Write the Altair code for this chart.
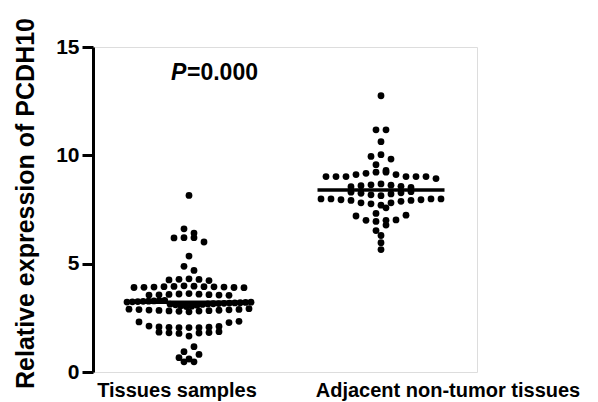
import altair as alt
import pandas as pd
import numpy as np

categories = ["Tissues samples", "Adjacent non-tumor tissues"]

tissues = [
    8.15,
    6.61, 6.41, 6.20, 6.20, 6.19, 6.00,
    5.35,
    4.88, 4.69,
    4.30, 4.28, 4.27, 4.25, 4.22,
    3.98, 3.96, 3.95, 3.94, 3.94, 3.93, 3.92, 3.92, 3.91, 3.90, 3.90, 3.89,
    3.62, 3.60, 3.59, 3.58, 3.57, 3.56, 3.55, 3.55, 3.54,
    3.30, 3.29, 3.28, 3.27, 3.26, 3.25, 3.24, 3.23, 3.22, 3.21, 3.20, 3.19,
    3.18, 3.17, 3.16, 3.15, 3.14, 3.13, 3.12, 3.10, 3.08, 3.06, 3.04, 3.02,
    2.92, 2.90, 2.89, 2.88, 2.87, 2.86, 2.85, 2.84, 2.83, 2.82, 2.81, 2.80, 2.78,
    2.34, 2.31, 2.28, 2.12, 2.10, 2.08, 2.07, 2.06, 2.05, 2.05, 2.05,
    1.86, 1.84, 1.82, 1.81, 1.80, 1.78, 1.66,
    1.17, 0.94, 0.81, 0.66, 0.60, 0.47, 0.47,
]

adjacent = [
    12.75,
    11.18, 11.18,
    10.63,
    10.03, 9.95, 9.83,
    9.57, 9.30,
    9.22, 9.22, 9.17, 9.11, 9.11,
    9.02, 9.02, 9.02, 9.02, 9.02, 9.02, 8.93,
    8.68, 8.64, 8.62, 8.60, 8.57, 8.55, 8.52,
    8.32, 8.30, 8.27, 8.25, 8.22, 8.18, 8.14,
    7.99, 7.99, 7.99, 7.99, 7.95, 7.95, 7.92, 7.92, 7.88, 7.81, 7.81, 7.76, 7.70,
    7.58, 7.32,
    7.24, 7.20, 7.02, 7.00, 7.00, 6.95,
    6.78, 6.53, 6.30, 5.97, 5.65,
]

y_ticks = [0, 5, 10, 15]
p_parts = ["P", "=0.000"]
y_title = "Relative expression of PCDH10"

W, H = 384, 325
FONT = "Liberation Sans"

# --- scatter-dot layout: rows of nearby values spread sideways (offsets in px) ---
STEP_PX = 10.0
HALF_PX = 62.0
ROW_TOL = 0.30


def swarm(values):
    mean = float(np.mean(values))
    vals = sorted(values, reverse=True)
    rows, cur = [], []
    for v in vals:
        if cur and cur[0] - v > ROW_TOL + 1e-9:
            rows.append(cur)
            cur = []
        cur.append(v)
    rows.append(cur)
    out = []
    for row in rows:
        n = len(row)
        sp = STEP_PX if n <= 1 else min(STEP_PX, 2 * HALF_PX / (n - 1))
        order = sorted(row, key=lambda v: -abs(v - mean))
        slots = sorted([(i - (n - 1) / 2) * sp for i in range(n)], key=lambda o: (abs(o), o))
        out.extend(zip(order, slots))
    return out


recs = []
for cat, vals in zip(categories, [tissues, adjacent]):
    for v, o in swarm(vals):
        recs.append({"group": cat, "value": v, "offset": o})
df = pd.DataFrame(recs)

xscale = alt.Scale(type="point", domain=categories, padding=0.5)
x_axis = alt.Axis(
    title=None, labels=False, grid=False,
    domainColor="black", domainWidth=3,
    tickColor="black", tickWidth=3, tickSize=8,
)
x_enc = alt.X("group:N", scale=xscale, axis=x_axis)
x_plain = alt.X("group:N", scale=xscale, axis=None)

yscale = alt.Scale(domain=[0, 15], nice=False, zero=True)
y_axis = alt.Axis(
    values=y_ticks, grid=False, title=y_title,
    domainColor="black", domainWidth=3,
    tickColor="black", tickWidth=3, tickSize=11,
    labelFont=FONT, labelFontSize=21, labelFontWeight="bold", labelColor="black",
    labelPadding=3,
    titleFont=FONT, titleFontSize=25, titleFontWeight="bold", titleColor="black",
    titleAngle=270, titleBaseline="alphabetic", titleAlign="center",
    titleX=-60, titleY=156,
)
y_enc = alt.Y("value:Q", scale=yscale, axis=y_axis)

base = alt.Chart(df)

points = base.mark_circle(size=46, color="black", opacity=1).encode(
    x=x_enc,
    y=y_enc,
    xOffset=alt.XOffset("offset:Q", scale=alt.Scale(domain=[-100, 100], range=[-100, 100])),
)

means = base.mark_tick(color="black", thickness=3.5, size=127).encode(
    x=x_enc,
    y=alt.Y("mean(value):Q", scale=yscale),
)

labels_df = pd.DataFrame({"group": categories})
label_layers = []
for cat, dx in zip(categories, [-12, 67]):
    label_layers.append(
        alt.Chart(labels_df)
        .transform_filter(alt.datum.group == cat)
        .mark_text(dx=dx, font=FONT, fontSize=20, fontWeight="bold", color="black",
                   baseline="alphabetic", align="center")
        .encode(x=x_plain, y=alt.value(H + 25), text="group:N")
    )

p_df = pd.DataFrame({"t": [p_parts[0]], "u": [p_parts[1]]})
p_italic = alt.Chart(p_df).mark_text(
    font=FONT, fontSize=23, fontWeight="bold", fontStyle="italic", color="black",
    align="left", baseline="alphabetic",
).encode(x=alt.value(78), y=alt.value(33), text="t:N")
p_rest = alt.Chart(p_df).mark_text(
    font=FONT, fontSize=23, fontWeight="bold", color="black",
    align="left", baseline="alphabetic",
).encode(x=alt.value(94), y=alt.value(33), text="u:N")

chart = alt.layer(points, means, *label_layers, p_italic, p_rest).properties(
    width=W, height=H,
    padding={"left": 85, "top": 39, "right": 113, "bottom": 32},
    autosize=alt.AutoSizeParams(type="none"),
).configure_view(stroke=None).configure(background="white")

chart.save("out.html", embed_options={"renderer": "svg", "actions": False})
